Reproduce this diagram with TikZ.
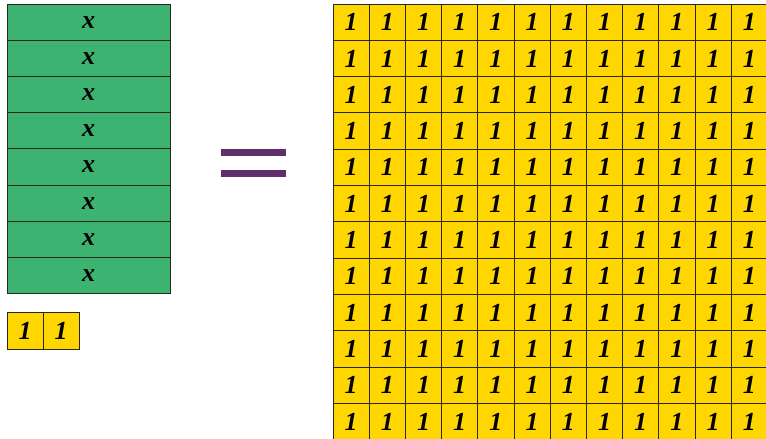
\documentclass[tikz,border=0pt]{standalone}
\usepackage{fontspec}
\setmainfont{Liberation Serif}
\definecolor{tilegreen}{RGB}{60,179,113}
\definecolor{tileyellow}{RGB}{255,214,0}
\definecolor{eqpurple}{RGB}{96,46,104}
\definecolor{edge}{RGB}{40,40,30}
\tikzset{
  tiletext/.style={font=\fontsize{26}{26}\selectfont\bfseries\itshape, text=black},
  gstrip/.style={tiletext, draw=edge, line width=1pt, fill=tilegreen, minimum width=163pt, minimum height=36.2pt, inner sep=0pt},
  ycell/.style={tiletext, draw=edge, line width=1pt, fill=tileyellow, minimum width=36.2pt, minimum height=36.3pt, inner sep=0pt},
  smallcell/.style={tiletext, draw=edge, line width=1pt, fill=tileyellow, minimum width=36pt, minimum height=37pt, inner sep=0pt},
}
\begin{document}
\begin{tikzpicture}[x=1pt,y=-1pt]
\useasboundingbox (0,0) rectangle (766,439);
\clip (0,0) rectangle (766,439);
% green x strips
\foreach \i in {0,...,7}
  \node[gstrip] (g\i) at (88.5, {4+36.2*\i+18.1}) {x};
% two unit tiles
\node[smallcell] (u1) at (25, 330.8) {1};
\node[smallcell] (u2) at (61, 330.8) {1};
% equals sign
\fill[eqpurple] (221,149) rectangle (286,156);
\fill[eqpurple] (221,170) rectangle (286,177);
% big grid of unit tiles
\foreach \r in {0,...,11}
  \foreach \c in {0,...,11}
    \node[ycell] (c\r-\c) at ({333+36.2*\c+18.1}, {4+36.3*\r+18.15}) {1};
\end{tikzpicture}
\end{document}
